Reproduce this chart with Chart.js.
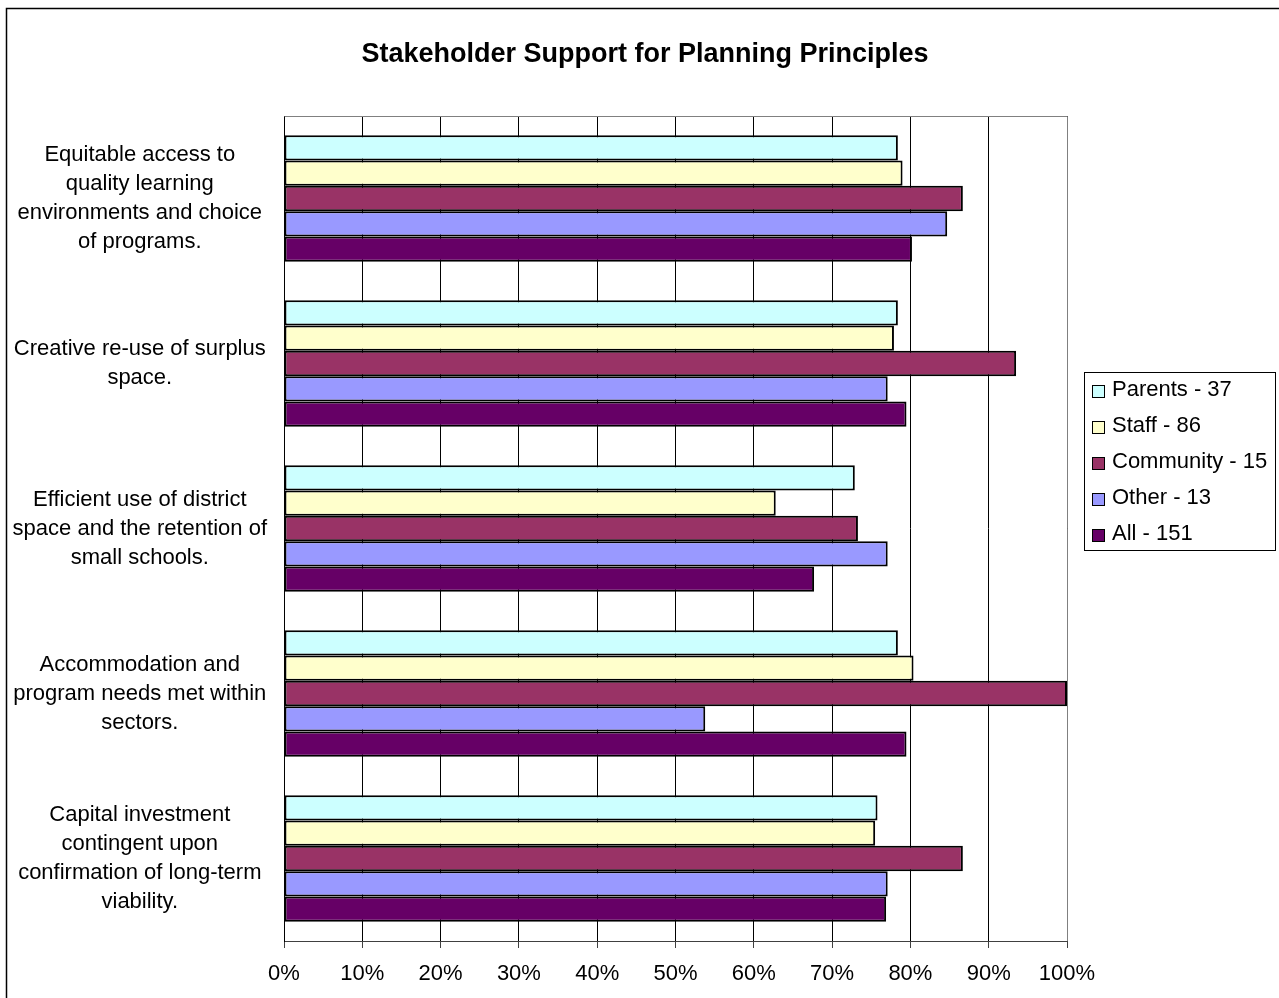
<!DOCTYPE html>
<html>
<head>
<meta charset="utf-8">
<script src="https://cdn.jsdelivr.net/npm/chart.js@4/dist/chart.umd.min.js"></script>
<style>
  html, body { margin: 0; padding: 0; background: #fff; }
  #wrap { width: 1279px; height: 998px; position: relative; }
</style>
</head>
<body>
<div id="wrap"><canvas id="c" width="1279" height="998"></canvas></div>
<script>
const chartTitle = "Stakeholder Support for Planning Principles";
const categories = [
  ["Equitable access to", "quality learning", "environments and choice", "of programs."],
  ["Creative re-use of surplus", "space."],
  ["Efficient use of district", "space and the retention of", "small schools."],
  ["Accommodation and", "program needs met within", "sectors."],
  ["Capital investment", "contingent upon", "confirmation of long-term", "viability."]
];
const seriesNames = ["Parents - 37", "Staff - 86", "Community - 15", "Other - 13", "All - 151"];
const parents   = [78.4, 78.4, 72.9, 78.4, 75.8];
const staff     = [79.0, 77.9, 62.8, 80.4, 75.5];
const community = [86.7, 93.5, 73.3, 100, 86.7];
const other     = [84.7, 77.1, 77.1, 53.8, 77.1];
const all       = [80.2, 79.5, 67.7, 79.5, 76.9];
const xTicks = [0, 10, 20, 30, 40, 50, 60, 70, 80, 90, 100];
const colors = ["#CCFFFF", "#FFFFCC", "#993366", "#9999FF", "#660066"];

const FONT = "'Liberation Sans', Arial, sans-serif";

const seriesValues = [parents, staff, community, other, all];
const datasets = seriesValues.map((vals, i) => ({
  label: seriesNames[i],
  data: vals,
  backgroundColor: colors[i],
  borderColor: "#000000",
  borderWidth: 2,
  borderSkipped: false,
  categoryPercentage: 0.768,
  barPercentage: 1.0
}));

const decor = {
  id: "decor",
  beforeDraw(chart) {
    const ctx = chart.ctx;
    ctx.save();
    ctx.fillStyle = "#ffffff";
    ctx.fillRect(0, 0, chart.width, chart.height);
    ctx.strokeStyle = "#000000";
    ctx.lineWidth = 1.5;
    ctx.strokeRect(6.5, 8.5, 1400, 1200);
    ctx.restore();
  },
  beforeDatasetsDraw(chart) {
    const a = chart.chartArea;
    const ctx = chart.ctx;
    ctx.save();
    ctx.strokeStyle = "#808080";
    ctx.lineWidth = 1;
    ctx.beginPath();
    ctx.moveTo(Math.round(a.left) + 0.5, Math.round(a.top) + 0.5);
    ctx.lineTo(Math.round(a.right) + 0.5, Math.round(a.top) + 0.5);
    ctx.lineTo(Math.round(a.right) + 0.5, Math.round(a.bottom));
    ctx.stroke();
    ctx.restore();
  },
  afterDraw(chart) {
    const ctx = chart.ctx;
    ctx.save();
    // title
    ctx.fillStyle = "#000000";
    ctx.font = "bold 27px " + FONT;
    ctx.textAlign = "center";
    ctx.textBaseline = "middle";
    ctx.fillText(chartTitle, 645, 55);
    // legend
    const lx = 1084, ly = 372, lw = 191, lh = 178;
    ctx.strokeStyle = "#000000";
    ctx.lineWidth = 1;
    ctx.strokeRect(lx + 0.5, ly + 0.5, lw, lh);
    ctx.font = "22px " + FONT;
    ctx.textBaseline = "middle";
    ctx.textAlign = "left";
    chart.data.datasets.forEach((ds, i) => {
      const cy = 390 + i * 36;
      ctx.fillStyle = ds.backgroundColor;
      ctx.fillRect(1092, cy - 5, 13, 13);
      ctx.strokeStyle = "#000000";
      ctx.strokeRect(1092.5, cy - 4.5, 12, 12);
      ctx.fillStyle = "#000000";
      ctx.fillText(ds.label, 1112, cy);
    });
    ctx.restore();
  }
};

new Chart(document.getElementById("c"), {
  type: "bar",
  data: { labels: categories, datasets },
  plugins: [decor],
  options: {
    indexAxis: "y",
    responsive: false,
    animation: false,
    devicePixelRatio: 1,
    layout: { padding: { left: 0, right: 212, top: 116, bottom: 0 } },
    plugins: {
      legend: { display: false },
      tooltip: { enabled: false },
      title: { display: false }
    },
    scales: {
      x: {
        type: "linear",
        min: 0,
        max: 100,
        afterBuildTicks(scale) { scale.ticks = xTicks.map(v => ({ value: v })); },
        ticks: {
          callback: v => v + "%",
          color: "#000000",
          font: { family: FONT, size: 22 },
          padding: 13,
          maxRotation: 0,
          autoSkip: false
        },
        grid: {
          color: "#000000",
          lineWidth: 1,
          drawTicks: true,
          tickLength: 7,
          tickColor: "#404040"
        },
        border: { display: true, color: "#404040", width: 1 },
        afterFit(scale) { scale.height = 57; scale.paddingLeft = 0; scale.paddingRight = 0; }
      },
      y: {
        type: "category",
        ticks: {
          color: "#000000",
          font: { family: FONT, size: 22, lineHeight: 1.32 },
          crossAlign: "center",
          padding: 17,
          autoSkip: false
        },
        grid: { display: false, drawTicks: false },
        border: { display: true, color: "#000000", width: 1 },
        afterFit(scale) { scale.width = 284; scale.paddingTop = 0; scale.paddingBottom = 0; }
      }
    }
  }
});
</script>
</body>
</html>
